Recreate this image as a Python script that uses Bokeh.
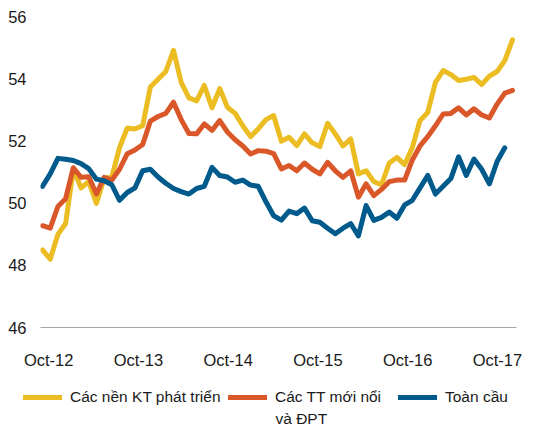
from bokeh.plotting import figure
from bokeh.models import Legend, LegendItem, FixedTicker, Range1d, ColumnDataSource, Label
from bokeh.layouts import column
from bokeh.embed import file_html
from bokeh.resources import INLINE

# ---- data (monthly index 0..61) ----
developed = [48.5, 48.2, 49.0, 49.35, 51.1, 50.5, 50.7, 50.0, 50.8, 50.85,
             51.8, 52.43, 52.4, 52.5, 53.75, 54.0, 54.25, 54.93, 53.9, 53.4,
             53.3, 53.8, 53.08, 53.7, 53.1, 52.9, 52.5, 52.15, 52.4, 52.7,
             52.83, 52.0, 52.13, 51.86, 52.24, 51.95, 51.83, 52.58, 52.24, 51.85,
             52.08, 50.95, 51.05, 50.7, 50.6, 51.3, 51.48, 51.25, 51.8, 52.67,
             52.93, 53.9, 54.28, 54.15, 53.96, 54.0, 54.06, 53.83, 54.1, 54.25,
             54.6, 55.27]
emerging = [49.28, 49.2, 49.9, 50.15, 51.15, 50.84, 50.86, 50.3, 50.84, 50.75,
            51.1, 51.6, 51.72, 51.9, 52.65, 52.8, 52.9, 53.26, 52.7, 52.25,
            52.24, 52.56, 52.35, 52.67, 52.3, 52.05, 51.85, 51.59, 51.7, 51.68,
            51.6, 51.11, 51.22, 51.05, 51.3, 51.1, 50.95, 51.32, 51.05, 50.84,
            51.05, 50.2, 50.63, 50.25, 50.45, 50.7, 50.75, 50.75, 51.4, 51.85,
            52.15, 52.5, 52.88, 52.9, 53.08, 52.85, 53.05, 52.85, 52.75, 53.2,
            53.55, 53.64]
global_ = [50.55, 50.95, 51.45, 51.42, 51.38, 51.28, 51.12, 50.78, 50.73, 50.6,
           50.1, 50.35, 50.5, 51.05, 51.1, 50.85, 50.65, 50.48, 50.38, 50.3,
           50.48, 50.55, 51.16, 50.9, 50.85, 50.68, 50.75, 50.59, 50.55, 50.05,
           49.6, 49.46, 49.75, 49.67, 49.85, 49.44, 49.39, 49.2, 49.02, 49.2,
           49.35, 48.95, 49.93, 49.45, 49.55, 49.72, 49.52, 49.95, 50.1, 50.5,
           50.9, 50.3, 50.55, 50.8, 51.5, 50.9, 51.43, 51.1, 50.63, 51.35,
           51.79]
tick_labels = ["Oct-12", "Oct-13", "Oct-14", "Oct-15", "Oct-16", "Oct-17"]
y_ticks = [46, 48, 50, 52, 54, 56]
series_names = ["Các nền KT phát triển", "Các TT mới nổi", "Toàn cầu"]
series_name_line2 = "và ĐPT"
colors = ["#EBBD22", "#D95728", "#005A8C"]

# layout positions of the date labels (in month-index units)
tick_pos = [0.8, 12.45, 24.1, 35.75, 47.4, 59.05]

FONT = "Liberation Sans"
FS_AX = "16.5px"
FS = "15.5px"
TXT = "#1a1a1a"

W = 541
H_MAIN = 372
H_LEG = 55

p = figure(width=W, height=H_MAIN, output_backend="svg", toolbar_location=None,
           x_range=Range1d(-0.26, 61.52), y_range=Range1d(46, 56.28),
           min_border_left=40, min_border_right=25, min_border_top=8,
           min_border_bottom=45)
p.frame_align = False
p.outline_line_color = None
p.grid.visible = False
p.background_fill_color = "white"
p.border_fill_color = "white"

sources = []
for vals, col in zip([developed, emerging, global_], colors):
    src = ColumnDataSource(dict(x=list(range(len(vals))), y=vals))
    sources.append(src)
    p.line("x", "y", source=src, line_color=col, line_width=5,
           line_join="round", line_cap="round")

# axes
xa = p.xaxis[0]
xa.ticker = FixedTicker(ticks=tick_pos)
xa.major_label_overrides = {t: l for t, l in zip(tick_pos, tick_labels)}
xa.axis_line_color = "#A6A6A6"
xa.axis_line_width = 1.2
xa.major_tick_line_color = None
xa.minor_tick_line_color = None
xa.major_label_text_font = FONT
xa.major_label_text_font_size = FS_AX
xa.major_label_text_color = TXT
xa.major_label_standoff = 17

ya = p.yaxis[0]
ya.ticker = FixedTicker(ticks=y_ticks)
ya.axis_line_color = None
ya.major_tick_line_color = None
ya.minor_tick_line_color = None
ya.major_label_text_font = FONT
ya.major_label_text_font_size = FS_AX
ya.major_label_text_color = TXT
ya.major_label_standoff = 8

# ---- legend strip below the chart (series drawn off-frame, only keys show) ----
lg = figure(width=W, height=H_LEG, output_backend="svg", toolbar_location=None,
            x_range=Range1d(-10, -9), y_range=Range1d(0, 1),
            x_axis_type=None, y_axis_type=None,
            min_border_left=0, min_border_right=0, min_border_top=0,
            min_border_bottom=0)
lg.frame_align = False
lg.outline_line_color = None
lg.grid.visible = False
lg.background_fill_color = "white"
lg.border_fill_color = "white"

legend_x = [23, 228, 398]
for name, col, src, lx in zip(series_names, colors, sources, legend_x):
    r = lg.line("x", "y", source=src, line_color=col, line_width=5, line_cap="round")
    leg = Legend(items=[LegendItem(label=name, renderers=[r])],
                 location=(lx, 20), orientation="horizontal",
                 label_text_font=FONT, label_text_font_size=FS,
                 label_text_color=TXT, glyph_width=39, glyph_height=20,
                 label_standoff=8, padding=0, margin=0, spacing=0,
                 border_line_color=None, background_fill_alpha=0,
                 label_height=20)
    lg.add_layout(leg)

lg.add_layout(Label(x=275, y=9, x_units="screen", y_units="screen",
                    text=series_name_line2, text_font=FONT, text_font_size=FS,
                    text_color=TXT, text_baseline="middle", text_align="left"))

layout = column(p, lg, spacing=0)
open("out.html", "w").write(file_html(layout, INLINE))
